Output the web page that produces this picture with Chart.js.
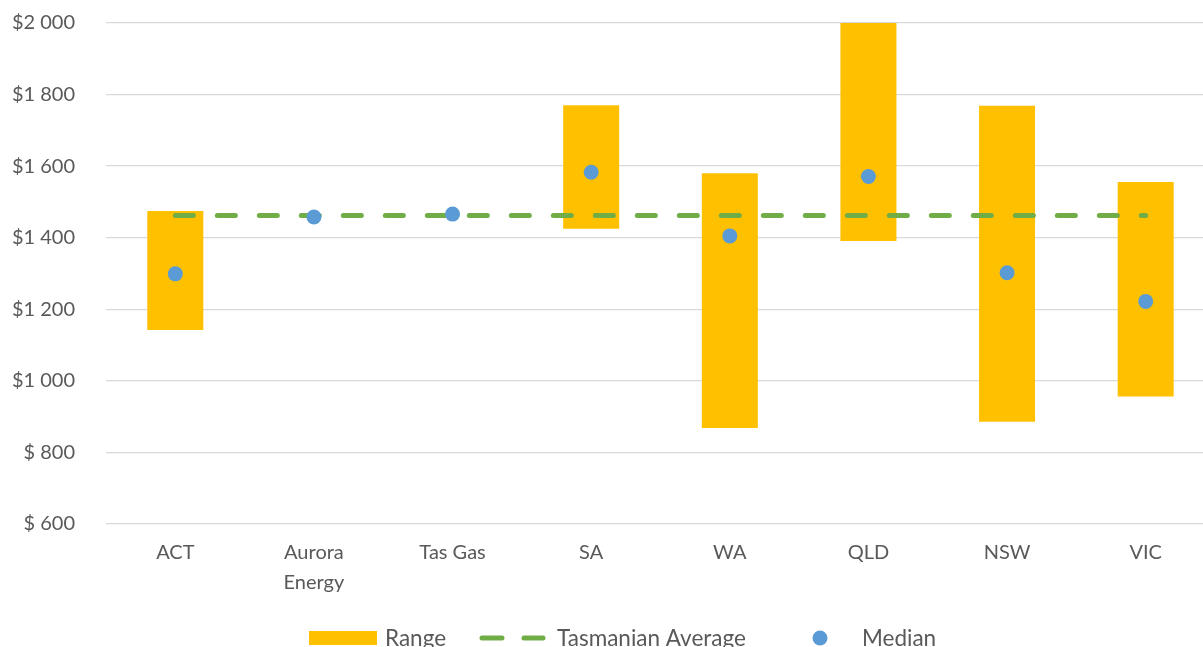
<!DOCTYPE html>
<html>
<head>
<meta charset="utf-8">
<script src="https://cdn.jsdelivr.net/npm/chart.js@4.4.1/dist/chart.umd.min.js"></script>
<style>
  html, body { margin: 0; padding: 0; background: #fff; overflow: hidden; }
  #wrap { width: 1203px; height: 647px; position: relative; overflow: hidden; }
  canvas { display: block; }
</style>
</head>
<body>
<div id="wrap"><canvas id="c" width="1215" height="647"></canvas></div>
<script>
const categories = ["ACT", ["Aurora", "Energy"], "Tas Gas", "SA", "WA", "QLD", "NSW", "VIC"];
const rangeLow  = [1142, null, null, 1425,  868, 1391,  886,  956];
const rangeHigh = [1475, null, null, 1770, 1580, 2000, 1769, 1556];
const medians   = [1299, 1458, 1466, 1583, 1405, 1571, 1302, 1222];
const tasAverage = [1462, 1462, 1462, 1462, 1462, 1462, 1462, 1462];
const yTickValues = [600, 800, 1000, 1200, 1400, 1600, 1800, 2000];
const yTickLabels = ["$ 600", "$ 800", "$1 000", "$1 200", "$1 400", "$1 600", "$1 800", "$2 000"];
const legendLabels = ["Range", "Tasmanian Average", "Median"];

const FONT = "Lato, 'Liberation Sans', sans-serif";
const TEXT = "#595959";
const GOLD = "#FFC000", GREEN = "#70AD47", BLUE = "#5B9BD5";

const rangeData = rangeLow.map((lo, i) => (lo == null ? null : [lo, rangeHigh[i]]));

const legendPlugin = {
  id: "customLegend",
  afterDraw(chart) {
    const ctx = chart.ctx;
    const cy = 638;
    const base = 646;
    ctx.save();
    ctx.font = "22.5px " + FONT;
    ctx.textBaseline = "alphabetic";
    ctx.textAlign = "left";
    ctx.fillStyle = GOLD;
    ctx.fillRect(309, 631, 68, 14);
    ctx.fillStyle = TEXT;
    ctx.fillText(legendLabels[0], 385, base);
    ctx.strokeStyle = GREEN;
    ctx.lineWidth = 5;
    ctx.lineCap = "round";
    ctx.beginPath();
    ctx.moveTo(482, cy); ctx.lineTo(502, cy);
    ctx.moveTo(524, cy); ctx.lineTo(543, cy);
    ctx.stroke();
    ctx.fillText(legendLabels[1], 557, base);
    ctx.fillStyle = BLUE;
    ctx.beginPath();
    ctx.arc(820, cy, 7.5, 0, Math.PI * 2);
    ctx.fill();
    ctx.fillStyle = TEXT;
    ctx.fillText(legendLabels[2], 862, base);
    ctx.restore();
  }
};

new Chart(document.getElementById("c"), {
  data: {
    labels: categories,
    datasets: [
      {
        type: "scatter",
        label: legendLabels[2],
        data: medians.map((v, i) => ({ x: i, y: v })),
        backgroundColor: BLUE,
        borderColor: BLUE,
        pointRadius: 7.5,
        pointHoverRadius: 7.5,
        borderWidth: 0,
        showLine: false,
        order: 1,
        xAxisID: "x"
      },
      {
        type: "line",
        label: legendLabels[1],
        data: tasAverage,
        borderColor: GREEN,
        backgroundColor: GREEN,
        borderWidth: 5,
        borderDash: [18, 24],
        borderCapStyle: "round",
        pointRadius: 0,
        fill: false,
        tension: 0,
        order: 2
      },
      {
        type: "bar",
        label: legendLabels[0],
        data: rangeData,
        backgroundColor: GOLD,
        borderWidth: 0,
        categoryPercentage: 1,
        barPercentage: 0.404,
        order: 3
      }
    ]
  },
  plugins: [legendPlugin],
  options: {
    responsive: false,
    animation: false,
    events: [],
    layout: { autoPadding: false, padding: 0 },
    plugins: {
      legend: { display: false },
      tooltip: { enabled: false },
      title: { display: false }
    },
    scales: {
      x: {
        type: "category",
        offset: true,
        grid: { display: false, drawTicks: false },
        border: { display: false },
        ticks: {
          color: TEXT,
          font: { family: FONT, size: 20, lineHeight: 1.5 },
          padding: 14,
          maxRotation: 0,
          autoSkip: false
        },
        afterFit(scale) { scale.height = 123; }
      },
      y: {
        min: 600,
        max: 2000,
        afterBuildTicks(scale) { scale.ticks = yTickValues.map(v => ({ value: v })); },
        grid: { color: "#D9D9D9", lineWidth: 1.3, drawTicks: false },
        border: { display: false },
        ticks: {
          color: TEXT,
          font: { family: FONT, size: 20 },
          padding: 31,
          callback(value) {
            const i = yTickValues.indexOf(value);
            return i >= 0 ? yTickLabels[i] : "";
          }
        },
        afterFit(scale) {
          scale.width = 106;
          scale.paddingTop = 23;
          scale.paddingBottom = 12;
        }
      }
    }
  }
});
</script>
</body>
</html>
